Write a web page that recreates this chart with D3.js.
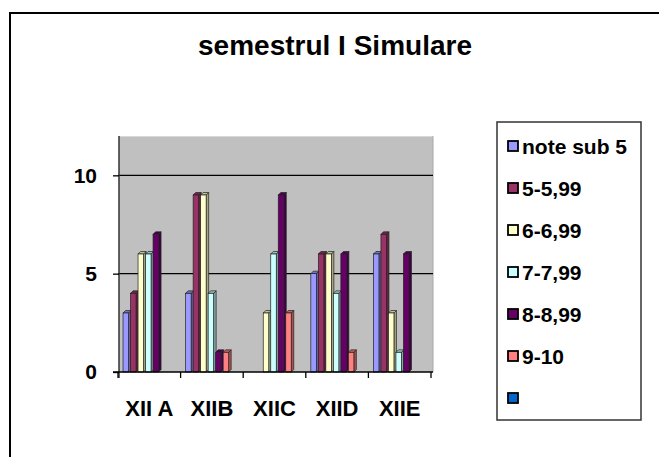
<!DOCTYPE html>
<html>
<head>
<meta charset="utf-8">
<script src="https://cdn.jsdelivr.net/npm/d3@7/dist/d3.min.js"></script>
<style>
  body { margin: 0; background: #fff; }
  svg { display: block; font-family: "Liberation Sans", Arial, sans-serif; font-weight: bold; }
</style>
</head>
<body>
<svg id="chart" width="659" height="457"></svg>
<script>
const title = "semestrul I Simulare";
const categories = ["XII A", "XIIB", "XIIC", "XIID", "XIIE"];
const seriesNames = ["note sub 5", "5-5,99", "6-6,99", "7-7,99", "8-8,99", "9-10", ""];
const seriesColors = ["#9999FF", "#993366", "#FFFFCC", "#CCFFFF", "#660066", "#FF8080", "#0066CC"];
const noteSub5 = [3, 4, 0, 5, 6];
const s5 = [4, 9, 0, 6, 7];
const s6 = [6, 9, 3, 6, 3];
const s7 = [6, 4, 6, 4, 1];
const s8 = [7, 1, 9, 6, 6];
const s9 = [0, 1, 3, 1, 0];
const sEmpty = [0, 0, 0, 0, 0];
const yTicks = [0, 5, 10];

const seriesValues = [noteSub5, s5, s6, s7, s8, s9, sEmpty];

const svg = d3.select("#chart");

// outer frame
svg.append("rect").attr("x", 10).attr("y", 13).attr("width", 700).attr("height", 500)
  .attr("fill", "none").attr("stroke", "#000").attr("stroke-width", 2);

// title
svg.append("text").attr("x", 335).attr("y", 55).attr("text-anchor", "middle")
  .attr("font-size", 28).text(title);

const plotL = 118, plotR = 431, wallR = 433, plotT = 136, plotB = 372;
const y = d3.scaleLinear().domain([0, 12]).range([plotB, plotT]);
const x = d3.scaleBand().domain(categories).range([plotL, plotR]);
const xs = d3.scaleBand().domain(d3.range(seriesNames.length)).range([0, x.bandwidth()]).paddingOuter(0.67);

// wall
svg.append("rect").attr("x", plotL + 1).attr("y", plotT).attr("width", wallR - plotL - 1).attr("height", plotB - plotT)
  .attr("fill", "#C0C0C0");
svg.append("line").attr("x1", plotL + 1).attr("x2", wallR).attr("y1", plotT + 0.5).attr("y2", plotT + 0.5)
  .attr("stroke", "#d8d8d8").attr("stroke-width", 1);
svg.append("line").attr("x1", wallR).attr("x2", wallR).attr("y1", plotT).attr("y2", plotB)
  .attr("stroke", "#a8a8a8").attr("stroke-width", 1);

// gridlines
svg.append("g").selectAll("line").data(yTicks.filter(d => d > 0)).join("line")
  .attr("x1", plotL).attr("x2", wallR).attr("y1", d => y(d)).attr("y2", d => y(d))
  .attr("stroke", "#000").attr("stroke-width", 1.3);

// bars
const depth = 2.5;
function shade(c, k) { return d3.color(c).darker(k).formatHex(); }
const barsG = svg.append("g");
categories.forEach((cat, ci) => {
  seriesValues.forEach((vals, si) => {
    const v = vals[ci];
    if (!v) return;
    const x0 = x(cat) + xs(si);
    const fw = xs.bandwidth() - depth + 0.5;
    const yTop = y(v), yBase = y(0);
    const col = seriesColors[si];
    barsG.append("path")
      .attr("d", `M${x0 + fw},${yTop} L${x0 + fw + depth},${yTop - depth} L${x0 + fw + depth},${yBase - depth} L${x0 + fw},${yBase} Z`)
      .attr("fill", shade(col, 1.2)).attr("stroke", "#222").attr("stroke-width", 0.7);
    barsG.append("path")
      .attr("d", `M${x0},${yTop} L${x0 + depth},${yTop - depth} L${x0 + fw + depth},${yTop - depth} L${x0 + fw},${yTop} Z`)
      .attr("fill", shade(col, 0.8)).attr("stroke", "#222").attr("stroke-width", 0.7);
    barsG.append("rect").attr("x", x0).attr("y", yTop).attr("width", fw).attr("height", yBase - yTop)
      .attr("fill", col).attr("stroke", "#222").attr("stroke-width", 0.7);
  });
});

// y axis
const yAxis = d3.axisLeft(y).tickValues(yTicks).tickSize(6).tickSizeOuter(0).tickPadding(16);
const yg = svg.append("g").attr("transform", `translate(${plotL + 1},0)`).call(yAxis);
yg.select(".domain").attr("d", `M0,${plotT}V${plotB + 6}`).attr("stroke", "#333").attr("stroke-width", 1.5);
yg.selectAll(".tick line").attr("stroke", "#000").attr("stroke-width", 1.3);
yg.selectAll(".tick text").attr("font-size", 21).attr("font-family", "Liberation Sans, Arial, sans-serif")
  .attr("font-weight", "bold").attr("fill", "#000");

// x axis baseline
svg.append("line").attr("x1", plotL - 5).attr("x2", wallR).attr("y1", plotB).attr("y2", plotB)
  .attr("stroke", "#000").attr("stroke-width", 1.3);

// x ticks at band boundaries
const boundaries = categories.map(c => x(c)).concat([x.range()[1]]);
svg.append("g").selectAll("line").data(boundaries).join("line")
  .attr("x1", d => d).attr("x2", d => d).attr("y1", plotB).attr("y2", plotB + 6)
  .attr("stroke", "#000").attr("stroke-width", 1.3);

// x labels
const xAxis = d3.axisBottom(x).tickSize(0).tickPadding(28);
const xg = svg.append("g").attr("transform", `translate(0,${plotB})`).call(xAxis);
xg.select(".domain").remove();
xg.selectAll(".tick text").attr("font-size", 22).attr("font-family", "Liberation Sans, Arial, sans-serif")
  .attr("font-weight", "bold").attr("fill", "#000");

// legend
const lg = svg.append("g");
lg.append("rect").attr("x", 497).attr("y", 122).attr("width", 144).attr("height", 298)
  .attr("fill", "#fff").attr("stroke", "#333").attr("stroke-width", 1.5);
const rowY = d3.scalePoint().domain(d3.range(seriesNames.length)).range([146, 398]);
seriesNames.forEach((name, i) => {
  const cy = rowY(i);
  lg.append("rect").attr("x", 508).attr("y", cy - 5).attr("width", 10).attr("height", 10)
    .attr("fill", seriesColors[i]).attr("stroke", "#000").attr("stroke-width", 1.8);
  lg.append("text").attr("x", 522).attr("y", cy + 7.5).attr("font-size", 21).text(name);
});
</script>
</body>
</html>
